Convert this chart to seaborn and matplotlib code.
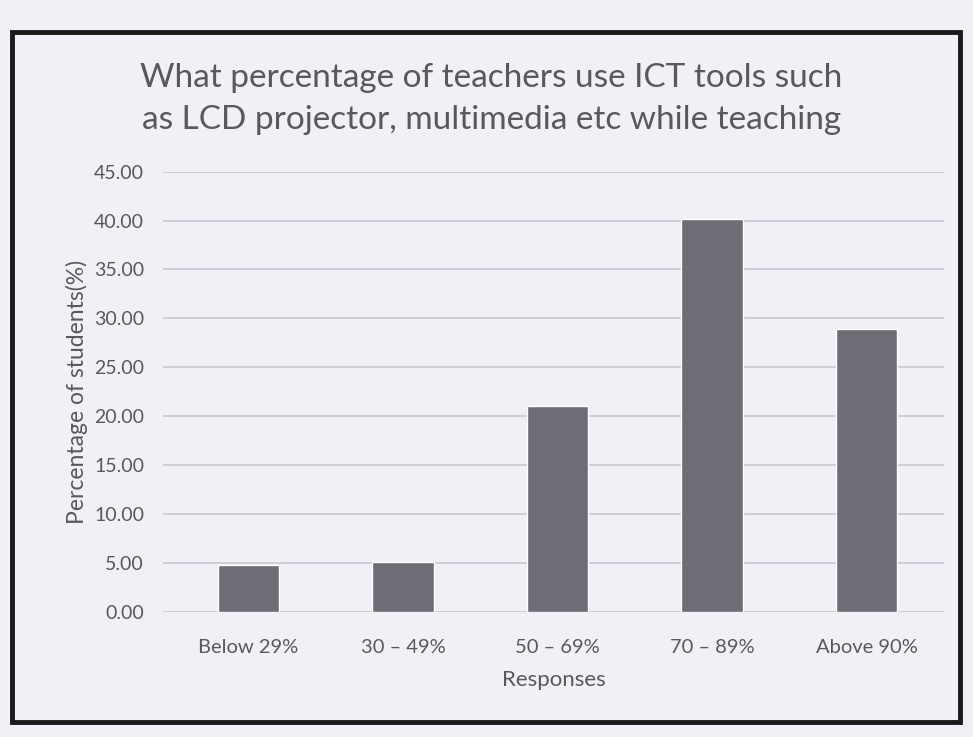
import matplotlib
matplotlib.use("Agg")
import matplotlib.pyplot as plt
import seaborn as sns
import pandas as pd
from matplotlib.patches import Rectangle

responses = ["Below 29%", "30 – 49%", "50 – 69%", "70 – 89%", "Above 90%"]
percent_students = [4.8, 5.1, 21.0, 40.2, 28.9]
y_ticks = [0, 5, 10, 15, 20, 25, 30, 35, 40, 45]

df = pd.DataFrame({"Responses": responses, "Percentage": percent_students})

sns.set_theme(style="white")
plt.rcParams["font.family"] = ["Lato", "DejaVu Sans"]

text_col = "#58585e"
bg = "#f0f0f7"

fig = plt.figure(figsize=(9.73, 7.37), dpi=100)
fig.patch.set_facecolor(bg)

# black frame round the chart
fig.add_artist(Rectangle((12 / 973, 15 / 737), 948 / 973, 690 / 737,
                         transform=fig.transFigure, fill=False,
                         edgecolor="#1a1a1a", linewidth=3.5))

ax = fig.add_axes([0.168, 0.170, 0.802, 0.597])
ax.set_facecolor(bg)

sns.barplot(data=df, x="Responses", y="Percentage", color="#6d6e75",
            width=0.4, saturation=1, ax=ax)

ax.set_ylim(0, 45)
ax.set_xlim(-0.55, 4.5)
ax.set_yticks(y_ticks)
ax.set_yticklabels([f"{v:.2f}" for v in y_ticks])
ax.yaxis.grid(True, color="#c8c8d0", linewidth=1.2)
ax.set_axisbelow(True)
for s in ax.spines.values():
    s.set_visible(False)
ax.tick_params(axis="both", length=0, labelsize=14, labelcolor=text_col)
ax.tick_params(axis="x", labelsize=14.5, pad=20)
ax.tick_params(axis="y", pad=14)

ax.set_xlabel("Responses", fontsize=16, color=text_col, labelpad=10)
ax.set_ylabel("Percentage of students(%)", fontsize=16.5, color=text_col, labelpad=4)

fig.text(0.505, 0.866, "What percentage of teachers use ICT tools such\n"
         "as LCD projector, multimedia etc while teaching",
         ha="center", va="center", fontsize=24, color=text_col, linespacing=1.5)

fig.savefig("out.png", dpi=100, facecolor=bg)
